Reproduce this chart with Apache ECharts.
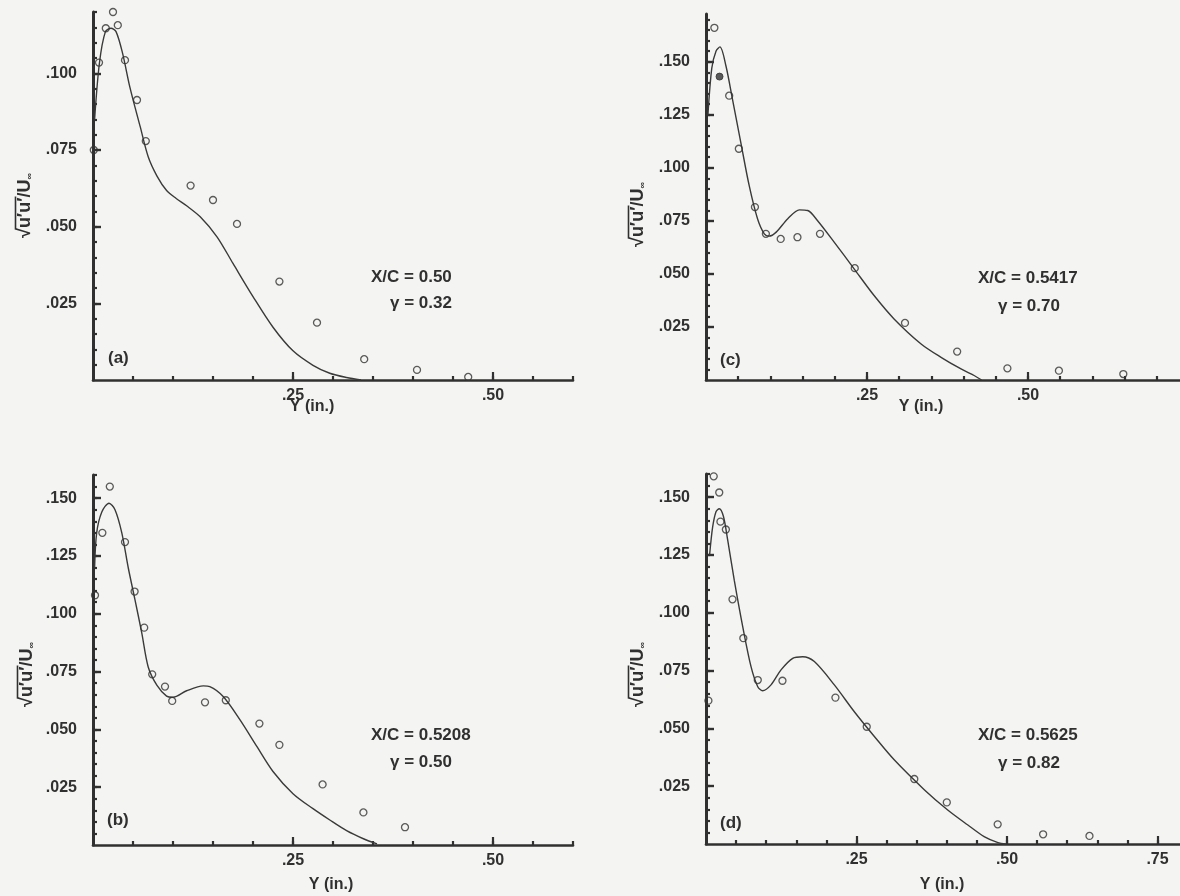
<!DOCTYPE html>
<html><head><meta charset="utf-8">
<script src="https://cdn.jsdelivr.net/npm/echarts@6/dist/echarts.min.js"></script>
<style>html,body{margin:0;padding:0;background:#f4f4f2}#c{width:1180px;height:896px}</style>
</head><body><div id="c"></div>
<script>
// ---------- data ----------
// Panel (a)  X/C = 0.50, gamma = 0.32
const aPtsX = [0.001, 0.0075, 0.016, 0.025, 0.031, 0.040, 0.055, 0.066, 0.122, 0.150, 0.180, 0.233, 0.280, 0.339, 0.405, 0.469];
const aPtsY = [0.075, 0.1035, 0.1147, 0.120, 0.1157, 0.1043, 0.0913, 0.0779, 0.0634, 0.0587, 0.0509, 0.0321, 0.0187, 0.0068, 0.0033, 0.0010];
const aCurveX = [0.002, 0.008, 0.0155, 0.0225, 0.0288, 0.037, 0.046, 0.059, 0.069, 0.080, 0.092, 0.104, 0.117, 0.134, 0.155, 0.175, 0.200, 0.225, 0.250, 0.275, 0.296, 0.317, 0.335];
const aCurveY = [0.085, 0.1033, 0.1136, 0.1147, 0.1136, 0.1065, 0.0956, 0.0826, 0.0728, 0.0665, 0.0618, 0.0592, 0.0568, 0.0532, 0.0467, 0.0380, 0.0272, 0.0172, 0.0095, 0.0048, 0.0022, 0.0008, 0.0];

// Panel (b)  X/C = 0.5208, gamma = 0.50
const bPtsX = [0.0025, 0.0117, 0.021, 0.040, 0.052, 0.064, 0.074, 0.090, 0.099, 0.140, 0.166, 0.208, 0.233, 0.287, 0.338, 0.390];
const bPtsY = [0.108, 0.135, 0.155, 0.131, 0.1096, 0.094, 0.0738, 0.0685, 0.0623, 0.0617, 0.0626, 0.0525, 0.0433, 0.0262, 0.0141, 0.0077];
const bCurveX = [0.002, 0.0046, 0.011, 0.020, 0.0275, 0.036, 0.044, 0.0525, 0.061, 0.069, 0.080, 0.092, 0.100, 0.117, 0.138, 0.146, 0.163, 0.184, 0.205, 0.225, 0.250, 0.275, 0.296, 0.317, 0.338, 0.355];
const bCurveY = [0.120, 0.135, 0.144, 0.1478, 0.145, 0.135, 0.120, 0.106, 0.0916, 0.077, 0.069, 0.0644, 0.0639, 0.0667, 0.0688, 0.0685, 0.0641, 0.054, 0.0425, 0.0318, 0.0222, 0.0157, 0.0108, 0.0062, 0.0027, 0.0005];

// Panel (c)  X/C = 0.5417, gamma = 0.70
const cPtsX = [0.013, 0.036, 0.051, 0.076, 0.093, 0.116, 0.142, 0.177, 0.231, 0.309, 0.390, 0.468, 0.548, 0.648];
const cPtsY = [0.166, 0.134, 0.109, 0.0815, 0.0689, 0.0665, 0.0673, 0.0689, 0.0527, 0.0269, 0.0134, 0.0055, 0.0044, 0.0028];
const cFillX = [0.021];
const cFillY = [0.143];
const cCurveX = [0.003, 0.009, 0.0155, 0.0217, 0.031, 0.041, 0.054, 0.067, 0.080, 0.0905, 0.098, 0.109, 0.127, 0.145, 0.158, 0.173, 0.199, 0.230, 0.261, 0.292, 0.334, 0.365, 0.396, 0.417, 0.428];
const cCurveY = [0.125, 0.147, 0.155, 0.157, 0.148, 0.1325, 0.112, 0.0917, 0.076, 0.0689, 0.0678, 0.0697, 0.076, 0.0802, 0.0799, 0.0752, 0.065, 0.0524, 0.0398, 0.0288, 0.017, 0.0107, 0.0052, 0.002, 0.0];

// Panel (d)  X/C = 0.5625, gamma = 0.82
const dPtsX = [0.004, 0.0128, 0.022, 0.024, 0.033, 0.044, 0.062, 0.086, 0.127, 0.215, 0.267, 0.346, 0.400, 0.4845, 0.560, 0.637];
const dPtsY = [0.062, 0.159, 0.152, 0.1394, 0.136, 0.1058, 0.089, 0.0709, 0.0706, 0.0633, 0.0507, 0.0281, 0.018, 0.0085, 0.0042, 0.0035];
const dCurveX = [0.006, 0.011, 0.0166, 0.022, 0.029, 0.036, 0.047, 0.061, 0.0748, 0.086, 0.094, 0.108, 0.1246, 0.144, 0.1606, 0.180, 0.2132, 0.2464, 0.280, 0.313, 0.363, 0.4015, 0.435, 0.462, 0.485, 0.498];
const dCurveY = [0.125, 0.137, 0.1437, 0.145, 0.1416, 0.1315, 0.114, 0.094, 0.0767, 0.068, 0.0663, 0.0688, 0.0753, 0.0803, 0.081, 0.0789, 0.0688, 0.0572, 0.0464, 0.0363, 0.0234, 0.0147, 0.0082, 0.0032, 0.0006, 0.0];

// tick labels
const yTickValues = [0.025, 0.050, 0.075, 0.100, 0.125, 0.150];
const yTickLabels = ['.025', '.050', '.075', '.100', '.125', '.150'];
const xTickValues = [0.25, 0.50, 0.75];
const xTickLabels = ['.25', '.50', '.75'];

const panelLetters = ['(a)', '(b)', '(c)', '(d)'];
const xcTexts = ['X/C = 0.50', 'X/C = 0.5208', 'X/C = 0.5417', 'X/C = 0.5625'];
const gammaTexts = ['\u03B3 = 0.32', '\u03B3 = 0.50', '\u03B3 = 0.70', '\u03B3 = 0.82'];
const xTitle = 'Y (in.)';

// ---------- layout / style ----------
const FAM = '"Liberation Sans", Arial, Helvetica, sans-serif';
const INK = '#303030';
const BG = '#f4f4f2';

const panels = [
  {grid:{left:93, top:12, width:480, height:368}, xMax:0.60, yMax:0.12, pX:aPtsX, pY:aPtsY, cX:aCurveX, cY:aCurveY,
   letter:[108,358], ann:[371,277,390,303], yT:[25,238], xT:[312,407]},
  {grid:{left:93, top:475, width:480, height:370}, xMax:0.60, yMax:0.16, pX:bPtsX, pY:bPtsY, cX:bCurveX, cY:bCurveY,
   letter:[107,820], ann:[371,735,390,762], yT:[27,707], xT:[331,885]},
  {grid:{left:706, top:14, width:483, height:366}, xMax:0.75, yMax:0.1725, pX:cPtsX, pY:cPtsY, cX:cCurveX, cY:cCurveY,
   fX:cFillX, fY:cFillY, letter:[720,360], ann:[978,278,998,306], yT:[638,247], xT:[921,407]},
  {grid:{left:706, top:474, width:481.6, height:370}, xMax:0.80, yMax:0.16, pX:dPtsX, pY:dPtsY, cX:dCurveX, cY:dCurveY,
   letter:[720,823], ann:[978,735,998,763], yT:[638,707], xT:[942,885]}
];

function zip(xs, ys){ return xs.map((x,i)=>[x, ys[i]]); }
function stepValues(step, max){ const v=[]; for(let k=1;k*step<=max+1e-9;k++) v.push(+(k*step).toFixed(4)); return v; }
function lookup(vals, labels, v){ for(let i=0;i<vals.length;i++){ if(Math.abs(vals[i]-v)<1e-6) return labels[i]; } return ''; }

const grids=[], xAxes=[], yAxes=[], series=[], graphics=[];

const meas = document.createElement('canvas').getContext('2d');
function yTitleGroup(cx, by){
  const f = 'bold 18px ' + FAM;
  meas.font = f;
  const w1 = meas.measureText('\u221A').width;
  const w2 = meas.measureText('u\u2032u\u2032').width;
  const w3 = meas.measureText('/U').width;
  return {type:'group', x:cx, y:by, rotation:Math.PI/2, children:[
    {type:'text', x:0, y:0, style:{text:'\u221A', font:f, fill:INK, verticalAlign:'middle'}},
    {type:'text', x:w1, y:0, style:{text:'u\u2032u\u2032', font:f, fill:INK, verticalAlign:'middle'}},
    {type:'line', shape:{x1:w1-1.5, y1:-9.5, x2:w1+w2+1, y2:-9.5}, style:{stroke:INK, lineWidth:1.6}},
    {type:'text', x:w1+w2, y:0, style:{text:'/U', font:f, fill:INK, verticalAlign:'middle'}},
    {type:'text', x:w1+w2+w3, y:5, style:{text:'\u221E', font:'bold 9px ' + FAM, fill:INK, verticalAlign:'middle'}}
  ]};
}

panels.forEach((p, i) => {
  grids.push(Object.assign({containLabel:false, outerBoundsMode:'none'}, p.grid));
  const xi = xAxes.length, yi = yAxes.length;
  const xLabVals = xTickValues.filter(v => v < p.xMax - 1e-9);
  // minor x axis (line + short ticks)
  xAxes.push({type:'value', gridIndex:i, position:'bottom', offset:0, min:0, max:p.xMax,
    axisLine:{show:true, onZero:false, lineStyle:{color:INK, width:2.6}},
    axisTick:{show:true, inside:true, length:4, customValues:stepValues(0.05, p.xMax), lineStyle:{color:INK, width:2.2}},
    axisLabel:{show:false}, splitLine:{show:false}});
  // major x axis (long ticks + labels)
  xAxes.push({type:'value', gridIndex:i, position:'bottom', offset:0, min:0, max:p.xMax,
    axisLine:{show:false, onZero:false},
    axisTick:{show:true, inside:true, length:8, customValues:xLabVals, lineStyle:{color:INK, width:2.2}},
    axisLabel:{show:true, margin:8, customValues:xLabVals,
      formatter:v=>lookup(xTickValues, xTickLabels, v),
      color:INK, fontFamily:FAM, fontWeight:'bold', fontSize:16},
    splitLine:{show:false}});
  // minor y axis
  yAxes.push({type:'value', gridIndex:i, position:'left', offset:0, min:0, max:p.yMax,
    axisLine:{show:true, onZero:false, lineStyle:{color:INK, width:3}},
    axisTick:{show:true, inside:true, length:4, customValues:stepValues(0.005, p.yMax), lineStyle:{color:INK, width:2.2}},
    axisLabel:{show:false}, splitLine:{show:false}});
  // major y axis
  yAxes.push({type:'value', gridIndex:i, position:'left', offset:0, min:0, max:p.yMax,
    axisLine:{show:false, onZero:false},
    axisTick:{show:true, inside:true, length:8, customValues:yTickValues.filter(v=>v<=p.yMax), lineStyle:{color:INK, width:2.4}},
    axisLabel:{show:true, margin:16, customValues:yTickValues.filter(v=>v<=p.yMax),
      formatter:v=>lookup(yTickValues, yTickLabels, v),
      color:INK, fontFamily:FAM, fontWeight:'bold', fontSize:16},
    splitLine:{show:false}});

  series.push({type:'line', xAxisIndex:xi+1, yAxisIndex:yi+1, data:zip(p.cX, p.cY),
    smooth:0.3, showSymbol:false, symbol:'none', lineStyle:{color:'#3a3a3a', width:1.4}, z:3, silent:true});
  series.push({type:'scatter', xAxisIndex:xi+1, yAxisIndex:yi+1, data:zip(p.pX, p.pY),
    symbol:'circle', symbolSize:7, itemStyle:{color:'rgba(0,0,0,0)', borderColor:'#333', borderWidth:1.3}, z:4, silent:true});
  if (p.fX) {
    series.push({type:'scatter', xAxisIndex:xi+1, yAxisIndex:yi+1, data:zip(p.fX, p.fY),
      symbol:'circle', symbolSize:7, itemStyle:{color:'#333', borderColor:'#333', borderWidth:1}, z:4, silent:true});
  }

  graphics.push({type:'text', x:p.letter[0], y:p.letter[1], style:{text:panelLetters[i], font:'bold 17px ' + FAM, fill:INK, verticalAlign:'middle'}});
  graphics.push({type:'text', x:p.ann[0], y:p.ann[1], style:{text:xcTexts[i], font:'bold 17px ' + FAM, fill:INK, verticalAlign:'middle'}});
  graphics.push({type:'text', x:p.ann[2], y:p.ann[3], style:{text:gammaTexts[i], font:'bold 17px ' + FAM, fill:INK, verticalAlign:'middle'}});
  graphics.push({type:'text', x:p.xT[0], y:p.xT[1], style:{text:xTitle, font:'bold 16px ' + FAM, fill:INK, align:'center', verticalAlign:'middle'}});
  graphics.push(yTitleGroup(p.yT[0], p.yT[1]));
});

const chart = echarts.init(document.getElementById('c'), null, {renderer:'canvas'});
chart.setOption({
  backgroundColor: BG,
  animation:false,
  grid:grids, xAxis:xAxes, yAxis:yAxes, series:series,
  graphic:graphics
});
</script>
</body></html>
